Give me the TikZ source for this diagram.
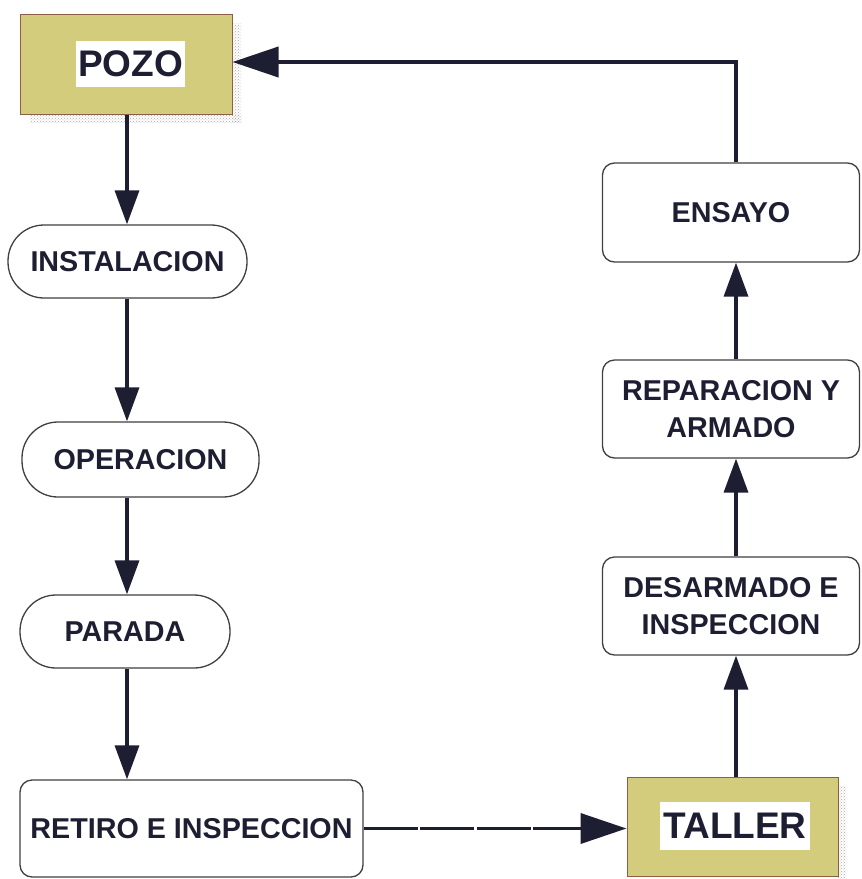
\documentclass[tikz,border=0pt]{standalone}
\usepackage{fontspec}
\setmainfont{Liberation Sans}
\usetikzlibrary{arrows.meta,patterns,calc}
\definecolor{ink}{HTML}{1E1E33}
\definecolor{khaki}{HTML}{D3CC7C}
\definecolor{khakiedge}{HTML}{8C5E46}
\begin{document}
\begin{tikzpicture}[x=1pt,y=-1pt,
  lbl/.style={font=\fontsize{28.7}{37}\selectfont\bfseries, text=ink, align=center},
  pill/.style={lbl, draw=black!75, line width=1.3pt, rounded corners=36pt, inner sep=0pt},
  rbox/.style={lbl, draw=black!75, line width=1.3pt, rounded corners=12pt, inner sep=0pt},
  kbox/.style={draw=khakiedge, fill=khaki, line width=1pt, inner sep=0pt},
  kbig/.style={font=\fontsize{37}{40}\selectfont\bfseries, text=ink, fill=white, inner sep=0pt},
  conn/.style={draw=ink, line width=3.5pt, -{Triangle[length=34pt,width=24pt]}},
  connbig/.style={draw=ink, line width=3.8pt, -{Triangle[length=46pt,width=30pt]}},
  shade/.style={pattern=crosshatch dots, pattern color=gray!70}
]
\useasboundingbox (0,0) rectangle (862,879);
\fill[white] (0,0) rectangle (862,879);
\coordinate (colL) at (127,0);
\coordinate (colR) at (736,0);

% shadows
\fill[shade] (232,23) rectangle (241,122);
\fill[shade] (30,114) rectangle (241,122);
\fill[shade] (838,786) rectangle (846,879);

\node[kbox, minimum width=212pt, minimum height=100pt] (pozo) at (126,64) {};
\node[kbig, minimum width=109pt, minimum height=46pt] (pozot) at (130.5,64) {POZO};

\node[pill, minimum width=239pt, minimum height=73pt] (inst) at (127.5,261.5) {INSTALACION};
\node[pill, minimum width=237pt, minimum height=75pt] (oper) at (140.5,459.5) {OPERACION};
\node[pill, minimum width=210pt, minimum height=73pt] (para) at (125,631.5) {PARADA};
\node[rbox, minimum width=343pt, minimum height=97pt] (reti) at (191.5,828.5) {RETIRO E INSPECCION};

\node[kbox, minimum width=211pt, minimum height=99pt] (tall) at (732.5,826.5) {};
\node[kbig, minimum width=150pt, minimum height=48pt] (tallt) at (735,826) {TALLER};

\node[rbox, minimum width=257pt, minimum height=98pt] (desa) at (731,606) {DESARMADO E\\INSPECCION};
\node[rbox, minimum width=257pt, minimum height=98pt] (repa) at (731,409) {REPARACION Y\\ARMADO};
\node[rbox, minimum width=257pt, minimum height=99pt] (ensa) at (731,212.5) {ENSAYO};

% connectors
\draw[conn] (pozo.south -| colL) -- (inst.north -| colL);
\draw[conn] (inst.south -| colL) -- (oper.north -| colL);
\draw[conn] (oper.south -| colL) -- (para.north -| colL);
\draw[conn] (para.south -| colL) -- (reti.north -| colL);
\draw[connbig, dash pattern=on 54pt off 2.5pt] (reti.east) -- (tall.west |- reti.east);
\draw[conn] (tall.north -| colR) -- (desa.south -| colR);
\draw[conn] (desa.north -| colR) -- (repa.south -| colR);
\draw[conn] (repa.north -| colR) -- (ensa.south -| colR);
\draw[connbig] (ensa.north -| colR) |- ($(pozo.east)+(0,-2)$);
\end{tikzpicture}
\end{document}
